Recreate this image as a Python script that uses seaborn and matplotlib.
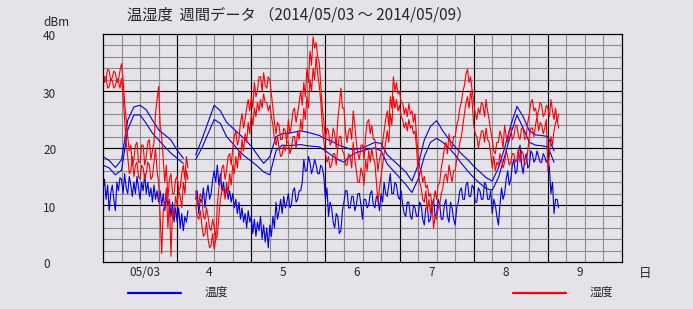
import numpy as np
import pandas as pd
import matplotlib
matplotlib.use("Agg")
import matplotlib.pyplot as plt
import matplotlib.transforms as mtransforms
import seaborn as sns
from matplotlib.lines import Line2D

sns.set_theme(style="white")
plt.rcParams['font.family'] = ['Noto Sans CJK JP', 'DejaVu Sans']

nan = np.nan

# ---- data (hours since 2014/05/03 00:00) ----
hours_2h = list(range(0, 148, 2))
hours_30m = [i / 2 for i in range(296)]

# smooth temperature sensors (2-hour readings)
temp_a = [18.5, 17.8, 16.6, 17.9, 24.9, 27.2, 27.5, 26.7, 24.9, 23.2, 22.3, 21.4,
          19.6, 18.2, nan, 18.8, 21.5, 24.5, 27.5, 26.5, 24.5, 23.5, 22.5, 21.5,
          20.3, 18.8, 17.3, 18.5, 22.0, 22.5, 22.6, 22.8, 23.0, 22.8, 22.5, 22.2,
          21.6, 21.2, 20.6, 20.2, 19.8, 19.8, 20.0, 20.5, 21.0, 20.8, 18.8, 17.8,
          16.8, 15.8, 14.2, 17.0, 21.4, 23.8, 24.8, 23.0, 21.5, 20.2, 19.0, 18.0,
          16.8, 15.8, 14.8, 14.2, 16.5, 20.0, 24.0, 27.3, 25.5, 23.0, 22.3, 22.2,
          22.0, 19.5]
temp_b = [17.0, 16.5, 15.3, 16.1, 23.2, 25.8, 25.8, 24.3, 22.6, 21.4, 20.2, 19.1,
          18.2, 17.3, nan, 18.0, 20.0, 22.5, 25.0, 24.3, 22.0, 20.8, 19.5, 18.5,
          17.7, 16.8, 15.8, 15.3, 19.5, 20.5, 20.4, 20.5, 20.6, 20.4, 20.3, 20.2,
          19.5, 18.7, 18.0, 17.5, 18.6, 19.2, 19.5, 19.8, 20.0, 19.5, 17.2, 16.0,
          14.8, 13.6, 12.2, 14.5, 18.5, 21.0, 21.7, 21.0, 20.0, 18.8, 17.3, 16.0,
          14.8, 13.8, 12.9, 12.6, 14.8, 18.5, 22.5, 25.8, 23.5, 21.0, 20.5, 20.4,
          20.2, 17.5]

# noisy (outdoor) temperature sensor (30-minute readings)
temp_c = [12.5, 14.5, 11, 13.5, 9, 12, 13.5, 11, 9, 14, 12.5, 14.8,
          14.5, 12, 15.5, 13, 12, 15, 13.5, 11.5, 14, 12, 15, 13,
          11, 14, 12.5, 15.5, 12, 14, 11.5, 13, 10.5, 13.5, 11, 12.5,
          10.5, 12.5, 10, 12, 9, 11.5, 10, 11, 8, 10.5, 7, 9.5,
          7, 9.5, 6, 8.5, 5.5, 8, 7, 9, nan, nan, nan, nan,
          11, 12.5, 8.5, 11, 10.5, 13, 9.5, 12, 13.5, 11, 12, 14.5,
          16, 14, 17, 13.5, 15.5, 12.5, 14, 11.5, 13, 11, 12.5, 10.5,
          12, 9.5, 11, 8.5, 10.5, 7.5, 9.5, 7, 8.5, 6, 9, 7,
          8, 5, 7.5, 4.5, 7, 5.5, 8, 4, 6.5, 3.5, 6, 2.5,
          6.5, 4.5, 8, 6, 10.5, 7.5, 9, 11, 8.5, 11.5, 9.5, 10.5,
          12, 9.5, 10, 12.5, 13, 10.5, 11, 12.5, 12.5, 14, 18, 16,
          16, 18.5, 17.5, 15.5, 16.5, 18, 17, 15.5, 15.5, 17, 16.5, 15,
          11, 13, 8, 10.5, 9.5, 7, 6, 8.5, 8, 5, 5.5, 9,
          10.5, 12.5, 12.5, 9.5, 9.5, 11.5, 11.5, 9, 10, 12, 12, 10,
          7.5, 11, 11, 9.5, 10, 12, 12.5, 10, 9.5, 11.5, 11, 9,
          12, 10.5, 14, 12, 11.5, 13.5, 15.5, 12, 12, 14, 13.5, 11.5,
          11, 12.5, 10, 8.5, 8, 10.5, 10.5, 8, 7.5, 10, 9.5, 8,
          8, 10.5, 10, 7.5, 6.5, 9.5, 9.5, 7, 7.5, 10, 11, 8,
          8.5, 11, 10, 7.5, 7.5, 10, 11, 8, 7, 10.5, 9.5, 7.5,
          6.5, 9.5, 10.5, 12.5, 13, 11, 11, 13.5, 14, 11.5, 11.5, 13.5,
          13, 10.5, 10.5, 13, 12.5, 11, 11, 14, 13.5, 11, 11, 12.5,
          8.5, 11, 10, 8, 6.5, 10, 13, 11, 12, 14.5, 16, 13.5,
          14.5, 17, 18, 15.5, 16, 19.5, 20.5, 17, 15.5, 18, 19, 16.5,
          17, 19.5, 19, 17.5, 18, 19.5, 18.5, 17.5, 17.5, 19, 18.5, 17.5,
          18, 16.5, 12, 14, 8.5, 11, 11, 9.5]

# humidity sensors (30-minute readings)
hum_a = [33, 31.5, 32.2, 33.8, 33.6, 31.8, 32.4, 33.5, 33.2, 31.5, 32, 33.5,
         34.8, 32, 28, 25, 22, 19.5, 20.5, 17, 18, 20.5, 21, 17.5,
         17.5, 20.5, 20.5, 17, 18.5, 21, 21.5, 18, 19.5, 21, 26, 28.5,
         30.8, 24, 22, 18, 14, 17, 11, 14.5, 15.5, 12, 12, 14.5,
         15, 12.5, 13, 15.5, 17, 14.5, 18.5, 16.5, nan, nan, nan, nan,
         12.5, 10, 10.5, 12, 11, 8, 7.5, 9.5, 8, 6, 5.5, 7.5,
         6, 4, 10, 13, 14, 16.5, 17, 14.5, 16, 18.5, 19, 17,
         20, 22, 23, 20.5, 21.5, 24.5, 26, 23.5, 25, 27, 28.5, 26.5,
         29, 27, 31.5, 29, 30, 32.5, 32.5, 30, 33.2, 31, 30.5, 32.5,
         32, 29.5, 27, 24.5, 22.5, 24.5, 24, 21.5, 21.5, 23.5, 23, 21,
         25, 22.5, 24, 26.5, 27, 24.5, 26, 28, 30, 27.5, 31.5, 29,
         34, 31.5, 37, 34.5, 39.5, 37.5, 38.5, 36, 35, 31, 27, 24.5,
         21.5, 23.5, 23, 20.5, 21, 23.5, 22.5, 20, 25, 27.5, 30.5, 27,
         27, 23, 21, 23, 23.5, 21.5, 26.5, 24, 21, 19, 18, 20.5,
         20.5, 18, 22, 24.5, 25, 22.5, 24, 21.5, 21.5, 19, 16, 18,
         19, 21, 23, 25, 26.5, 24, 29, 27, 32.5, 30, 31.5, 29.5,
         30, 28, 28, 26, 27, 25.5, 27.8, 26, 26.5, 24.5, 26, 22,
         19, 16.5, 16, 14, 15, 13, 13.5, 11.5, 12, 10, 10.5, 12.5,
         11, 13.5, 14, 16.5, 18, 20, 21, 19, 22.5, 20.5, 20, 22,
         22, 24, 25, 27, 28, 30, 31, 33, 33.8, 31.5, 32.5, 30,
         28, 26, 25, 27, 26, 28, 27.5, 25.5, 28.5, 26.5, 25, 23,
         21.5, 19.5, 19, 21, 21, 23, 22, 20, 24, 22, 21, 23,
         23.5, 21.5, 22, 24, 24, 22, 21.5, 23.5, 23.5, 21.5, 22, 24.5,
         26, 28, 28.5, 26.5, 27, 25.5, 26.5, 28, 27.5, 25.5, 26, 27.5,
         27, 25.5, 28.5, 26.5, 25, 27, 24.5, 26]
hum_b = [31, 32.5, 32.4, 30.5, 30.8, 32, 31.8, 30.5, 30.9, 32.2, 31.6, 30.5,
         32.2, 29, 25, 21, 18.5, 15.5, 16, 18.5, 15, 17, 17.5, 15,
         14.5, 17, 16.5, 14.5, 15.5, 17.5, 17, 14.5, 15, 17.5, 20, 16,
         14, 8, 1.5, 9, 10, 13, 6, 11, 1, 9, 8, 11.5,
         10, 12.5, 11.5, 9.5, 14, 12, 16, 14.5, nan, nan, nan, nan,
         10, 8, 7.5, 9, 6.5, 4.5, 5, 7, 4, 2.5, 3, 5,
         2.2, 4, 4.5, 8, 11, 12.5, 13, 11, 14, 12, 15.5, 13.5,
         17, 15.5, 18.5, 16.5, 19.5, 18, 21.5, 19.5, 22.5, 21, 24.5, 22.5,
         26, 24, 27, 25.5, 28, 26.5, 28.5, 27, 29.5, 28, 28, 26.5,
         27.5, 25.5, 24, 21.5, 20.5, 22, 20, 18.5, 18.8, 20.5, 19.5, 21,
         21, 19, 20, 22, 22, 20, 23, 21.5, 25, 23, 27, 25,
         29, 27, 32, 30, 34, 32, 36, 33, 31, 28, 24, 21,
         19, 17.5, 18.5, 16.5, 17, 19, 19, 17, 20, 22, 22, 19.5,
         19, 17, 17, 19, 18.5, 16.5, 21, 18, 16, 14, 14, 16.5,
         15.5, 13.5, 18, 16, 19.5, 17.5, 20, 18, 17.5, 14, 10.5, 13,
         15, 17, 19, 21, 23, 21, 26, 24, 29, 27, 28.5, 26.5,
         27.5, 25.5, 25, 23.5, 24.5, 23, 25, 23.5, 24, 22.5, 23, 20,
         16, 14, 13, 11, 10.5, 12.5, 9, 11, 8.5, 10.5, 6, 8,
         7.5, 9.5, 10, 12, 13, 15, 15.5, 14, 17, 15.5, 14, 16,
         16, 18, 19, 21, 22, 24, 26, 28, 29, 27, 30, 28,
         24, 22.5, 22, 20, 21.5, 23, 23, 21, 23.5, 21.5, 21, 19,
         16.5, 18.5, 16, 17.5, 17, 19, 18, 16.5, 17.5, 19.5, 18.5, 17,
         17.5, 19, 19, 17.5, 18, 20, 17.5, 19.5, 19, 17, 17.5, 19.5,
         22, 23.5, 23.5, 22, 24, 25.5, 23, 24.5, 24, 22.5, 23.5, 25,
         16, 19, 22, 20.5, 23, 24.5, 25, 23.5]

day_bounds = [24, 48, 72, 96, 120, 144]
day_tick_pos = [13.6, 34.3, 58.2, 82.2, 106.3, 130.3, 154.3]
day_labels = ["05/03", "4", "5", "6", "7", "8", "9"]
y_ticks = [0, 10, 20, 30, 40]
y_tick_labels = ["0", "10", "20", "30", "40"]

title = "温湿度  週間データ （2014/05/03 ～ 2014/05/09）"
legend_temp = "温度"
legend_hum = "湿度"

BLUE = "#0000E6"
RED = "#FF0000"
BG = "#E6E2EA"


def long_frame(x, y, name):
    df = pd.DataFrame({"hour": x, "value": y})
    df["series"] = name
    df["unit"] = name + "_" + df["value"].isna().cumsum().astype(str)
    return df.dropna()


blue_df = pd.concat([long_frame(hours_2h, temp_a, "ta"),
                     long_frame(hours_2h, temp_b, "tb"),
                     long_frame(hours_30m, temp_c, "tc")], ignore_index=True)
red_df = pd.concat([long_frame(hours_30m, hum_a, "ha"),
                    long_frame(hours_30m, hum_b, "hb")], ignore_index=True)

fig = plt.figure(figsize=(6.93, 3.09), dpi=100)
fig.patch.set_facecolor(BG)
ax = fig.add_axes([103 / 693, 47 / 309, 519 / 693, 228 / 309])
ax.set_facecolor(BG)

ax.set_xlim(0, 168)
ax.set_ylim(0, 40)

# grid
for h in range(6, 168, 6):
    ax.axvline(h, color="#8C8C8C", lw=0.8, zorder=0.5)
for v in range(2, 40, 2):
    ax.axhline(v, color="#8C8C8C", lw=0.8, zorder=0.5)
for h in day_bounds:
    ax.axvline(h, color="black", lw=0.8, zorder=0.6)
for v in [10, 20, 30]:
    ax.axhline(v, color="black", lw=0.8, zorder=0.6)

sns.lineplot(data=blue_df, x="hour", y="value", hue="series", units="unit",
             estimator=None, sort=False, palette={"ta": BLUE, "tb": BLUE, "tc": BLUE},
             legend=False, lw=0.8, ax=ax, zorder=2)
sns.lineplot(data=red_df, x="hour", y="value", hue="series", units="unit",
             estimator=None, sort=False, palette={"ha": RED, "hb": RED},
             legend=False, lw=0.8, ax=ax, zorder=3)

for s in ax.spines.values():
    s.set_color("black")
    s.set_linewidth(0.9)
    s.set_zorder(4)

ax.set_xlabel("")
ax.set_ylabel("")
ax.set_xticks(day_tick_pos)
ax.set_xticklabels(day_labels, fontsize=8.5)
ax.set_yticks(y_ticks)
ax.set_yticklabels(y_tick_labels, fontsize=8.5)
ax.tick_params(axis="x", length=0, pad=3)
ax.tick_params(axis="y", length=0, pad=43.2)
shift = mtransforms.ScaledTranslation(0, -3 / 100, fig.dpi_scale_trans)
for lab in ax.get_yticklabels():
    lab.set_horizontalalignment("left")
    lab.set_verticalalignment("center")
    lab.set_transform(lab.get_transform() + shift)

fig.text(43 / 693, 1 - 23 / 309, "dBm", fontsize=8.5, ha="left", va="center")
fig.text(299 / 693, 1 - 15 / 309, title, fontsize=11, ha="center", va="center")
fig.text(645 / 693, 1 - 273 / 309, "日", fontsize=9, ha="center", va="center")

fig.add_artist(Line2D([128 / 693, 181 / 693], [1 - 293 / 309] * 2, color=BLUE, lw=1.6))
fig.text(205 / 693, 1 - 292 / 309, legend_temp, fontsize=8.5, ha="left", va="center")
fig.add_artist(Line2D([513 / 693, 566 / 693], [1 - 293 / 309] * 2, color=RED, lw=1.6))
fig.text(590 / 693, 1 - 292 / 309, legend_hum, fontsize=8.5, ha="left", va="center")

fig.savefig("out.png", dpi=100, facecolor=BG)
